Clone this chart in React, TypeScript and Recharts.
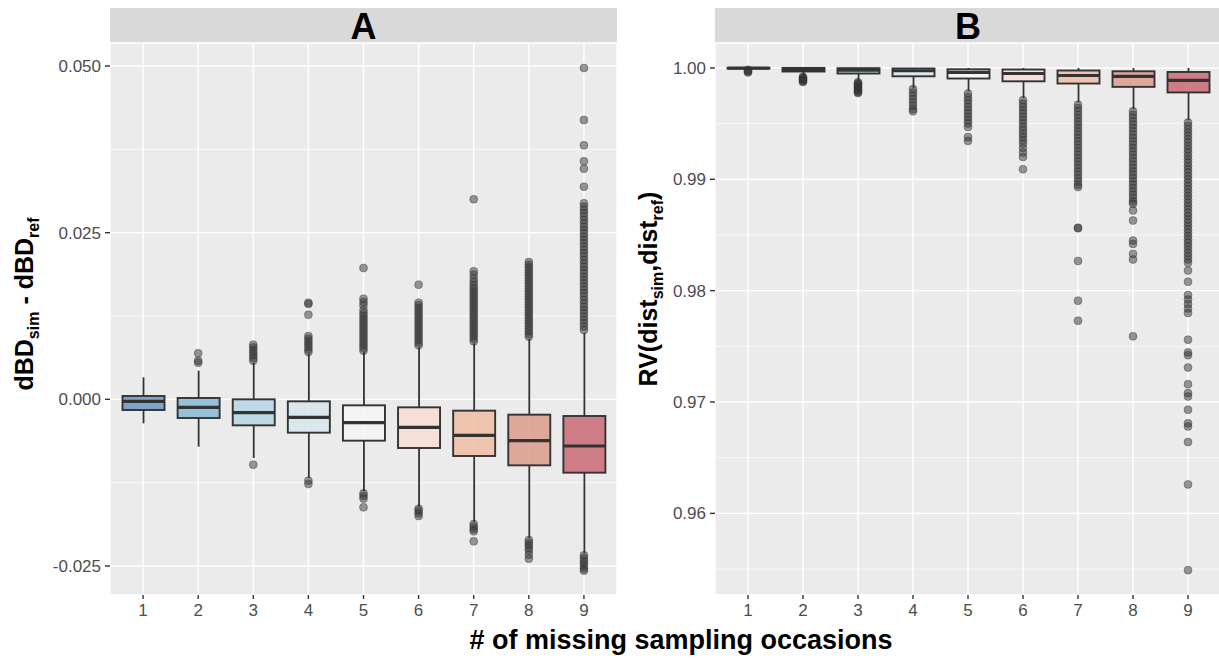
import React from 'react';
import { ComposedChart, Bar, Scatter, XAxis, YAxis, CartesianGrid } from 'recharts';

const occasions = [1, 2, 3, 4, 5, 6, 7, 8, 9];
const boxFills = ['#6A99C6', '#86B8D6', '#B5D6E5', '#D7E8EE', '#F4F4F4', '#F7DDD2', '#EFBDA3', '#DD9A8C', '#C96873'];

// Panel A: dBD_sim - dBD_ref
const aTicks = [-0.025, 0, 0.025, 0.05];
const aMinor = [-0.0125, 0.0125, 0.0375];
const aLow = [-0.0036, -0.0071, -0.0088, -0.0118, -0.0138, -0.0161, -0.0184, -0.0208, -0.0231];
const aQ1 = [-0.0016, -0.0028, -0.0039, -0.005, -0.0062, -0.0073, -0.0085, -0.0099, -0.011];
const aMed = [-0.0003, -0.0012, -0.002, -0.0027, -0.0035, -0.0042, -0.0054, -0.0062, -0.007];
const aQ3 = [0.0005, 0.0002, 0.0, -0.0003, -0.0009, -0.0012, -0.0017, -0.0023, -0.0025];
const aHigh = [0.0033, 0.0043, 0.0055, 0.0069, 0.0071, 0.0078, 0.0084, 0.0091, 0.01];
const aOutliers = [
  [],
  [0.0055, 0.0058, 0.0069],
  [0.0058, 0.0062, 0.0066, 0.007, 0.0074, 0.0078, 0.0082, -0.0098],
  [0.0071, 0.0075, 0.0079, 0.0083, 0.0087, 0.0091, 0.0095, 0.0127, 0.0143, 0.0145, -0.0122, -0.0127],
  [0.0073, 0.0077, 0.0081, 0.0085, 0.0089, 0.0093, 0.0097, 0.0101, 0.0105, 0.0109, 0.0113, 0.0117, 0.0121, 0.0125,
    0.0129, 0.0134, 0.0141, 0.0146, 0.0151, 0.0197, -0.0141, -0.0145, -0.0149, -0.0162],
  [0.0081, 0.0085, 0.0089, 0.0093, 0.0097, 0.0101, 0.0105, 0.0109, 0.0113, 0.0117, 0.0121, 0.0125, 0.0129, 0.0133,
    0.0137, 0.0141, 0.0145, 0.0172, -0.0164, -0.0167, -0.0171, -0.0175],
  [0.0087, 0.0091, 0.0095, 0.0099, 0.0103, 0.0107, 0.0111, 0.0115, 0.0119, 0.0123, 0.0127, 0.0131, 0.0135, 0.0139,
    0.0143, 0.0147, 0.0151, 0.0155, 0.0159, 0.0163, 0.0167, 0.0171, 0.0176, 0.0181, 0.0187, 0.0192, 0.03,
    -0.0187, -0.0191, -0.0195, -0.0198, -0.0213],
  [0.0094, 0.0098, 0.0102, 0.0106, 0.011, 0.0114, 0.0118, 0.0122, 0.0126, 0.013, 0.0134, 0.0138, 0.0142, 0.0146,
    0.015, 0.0154, 0.0158, 0.0162, 0.0166, 0.017, 0.0174, 0.0178, 0.0182, 0.0186, 0.019, 0.0194, 0.0198, 0.0202,
    0.0206, -0.0211, -0.0215, -0.0219, -0.0223, -0.0227, -0.0233, -0.0239],
  [0.0104, 0.0109, 0.0114, 0.0119, 0.0124, 0.0129, 0.0134, 0.0139, 0.0144, 0.0149, 0.0154, 0.0159, 0.0164, 0.0169,
    0.0174, 0.0179, 0.0184, 0.0189, 0.0194, 0.0199, 0.0204, 0.0209, 0.0214, 0.0219, 0.0224, 0.0229, 0.0234, 0.0239,
    0.0244, 0.0249, 0.0254, 0.0259, 0.0264, 0.0269, 0.0274, 0.0279, 0.0284, 0.0289, 0.0294, 0.0319, 0.0346, 0.0357,
    0.0381, 0.0419, 0.0497, -0.0234, -0.0238, -0.0242, -0.0246, -0.025, -0.0254, -0.0257],
];

// Panel B: RV(dist_sim, dist_ref)
const bTicks = [0.96, 0.97, 0.98, 0.99, 1.0];
const bMinor = [0.955, 0.965, 0.975, 0.985, 0.995];
const bLow = [0.99988, 0.99925, 0.9988, 0.9982, 0.9979, 0.9973, 0.9969, 0.9963, 0.9953];
const bQ1 = [0.99995, 0.99968, 0.9995, 0.99925, 0.99905, 0.9988, 0.9986, 0.9983, 0.9978];
const bMed = [0.99998, 0.99988, 0.9998, 0.99975, 0.99961, 0.9995, 0.99932, 0.99925, 0.99889];
const bQ3 = [1.0, 1.0, 0.99998, 0.99995, 0.99988, 0.99986, 0.99977, 0.9997, 0.99964];
const bHigh = [1.0, 1.0, 1.0, 1.0, 1.0, 1.0, 1.0, 1.0, 1.0];
const bOutliers = [
  [0.99983, 0.99975, 0.99968, 0.9996],
  [0.9992, 0.99912, 0.99904, 0.99896, 0.99888, 0.9988, 0.99874],
  [0.99872, 0.99862, 0.99852, 0.99842, 0.99832, 0.99822, 0.99812, 0.99802, 0.99792, 0.99782, 0.99775],
  [0.9981, 0.9978, 0.9975, 0.9972, 0.9969, 0.9966, 0.9963, 0.9961],
  [0.9977, 0.9974, 0.9971, 0.9968, 0.9965, 0.9962, 0.9959, 0.9956, 0.9953, 0.995, 0.9947, 0.9938, 0.99345],
  [0.9971, 0.9968, 0.9965, 0.9962, 0.9959, 0.9956, 0.9953, 0.995, 0.9947, 0.9944, 0.9941, 0.9938, 0.9935, 0.9932,
    0.9928, 0.9924, 0.992, 0.9909],
  [0.9967, 0.9964, 0.9961, 0.9958, 0.9955, 0.9952, 0.9949, 0.9946, 0.9943, 0.994, 0.9937, 0.9934, 0.9931, 0.9928,
    0.9925, 0.9922, 0.9919, 0.9916, 0.9913, 0.991, 0.9907, 0.9904, 0.9901, 0.9898, 0.9895, 0.9893, 0.98565, 0.9856,
    0.98267, 0.9791, 0.9773],
  [0.9961, 0.9958, 0.9955, 0.9952, 0.9949, 0.9946, 0.9943, 0.994, 0.9937, 0.9934, 0.9931, 0.9928, 0.9925, 0.9922,
    0.9919, 0.9916, 0.9913, 0.991, 0.9907, 0.9904, 0.9901, 0.9898, 0.9895, 0.9892, 0.9889, 0.9886, 0.9883, 0.988,
    0.9878, 0.9872, 0.9863, 0.9845, 0.9842, 0.9833, 0.9828, 0.9759],
  [0.9951, 0.9948, 0.9945, 0.9942, 0.9939, 0.9936, 0.9933, 0.993, 0.9927, 0.9924, 0.9921, 0.9918, 0.9915, 0.9912,
    0.9909, 0.9906, 0.9903, 0.99, 0.9897, 0.9894, 0.9891, 0.9888, 0.9885, 0.9882, 0.9879, 0.9876, 0.9873, 0.987,
    0.9867, 0.9864, 0.9861, 0.9858, 0.9855, 0.9852, 0.9849, 0.9846, 0.9843, 0.984, 0.9837, 0.9834, 0.9831, 0.9828,
    0.9825, 0.9818, 0.9808, 0.9796, 0.9792, 0.9788, 0.9784, 0.978, 0.9756, 0.97445, 0.9742, 0.9731, 0.9716, 0.9708,
    0.9705, 0.9693, 0.9681, 0.9678, 0.9664, 0.9626, 0.9549],
];

const FONT = "'Liberation Sans', Arial, Helvetica, sans-serif";
const DARK = '#333333';

function buildBoxes(low: number[], q1: number[], med: number[], q3: number[], high: number[]) {
  return occasions.map((x, i) => ({
    x,
    range: [low[i], high[i]],
    q1: q1[i],
    med: med[i],
    q3: q3[i],
    fill: boxFills[i],
  }));
}

function buildOutliers(outliers: number[][]) {
  return occasions.flatMap((x, i) => outliers[i].map((v) => ({ x, v })));
}

// box + whiskers drawn inside the whisker-range bar, positions derived from the bar's own scale
function BoxShape(props: any) {
  const { x, y, width, height, payload } = props;
  if (!payload || width == null) return null;
  const [lo, hi] = payload.range;
  const py = (v: number) => y + (height * (hi - v)) / (hi - lo);
  const cx = x + width / 2;
  const yq3 = py(payload.q3);
  const yq1 = py(payload.q1);
  const ym = py(payload.med);
  return (
    <g>
      <line x1={cx} x2={cx} y1={py(hi)} y2={yq3} stroke={DARK} strokeWidth={1.8} />
      <line x1={cx} x2={cx} y1={yq1} y2={py(lo)} stroke={DARK} strokeWidth={1.8} />
      <rect x={x} y={yq3} width={width} height={Math.max(yq1 - yq3, 0.5)} fill={payload.fill} fillOpacity={0.85}
        stroke={DARK} strokeWidth={1.9} />
      <line x1={x} x2={x + width} y1={ym} y2={ym} stroke={DARK} strokeWidth={3.2} />
    </g>
  );
}

const OutlierDot = (p: any) => (
  <circle cx={p.cx} cy={p.cy} r={4} fill={DARK} fillOpacity={0.5} stroke={DARK} strokeOpacity={0.45} strokeWidth={0.8} />
);

interface PanelProps {
  boxes: any[];
  points: { x: number; v: number }[];
  domain: [number, number];
  ticks: number[];
  minor: number[];
  digits: number;
  width: number;
  margin: { top: number; right: number; bottom: number; left: number };
}

function Panel({ boxes, points, domain, ticks, minor, digits, width, margin }: PanelProps) {
  return (
    <ComposedChart width={width} height={659} data={boxes} margin={margin}>
      <CartesianGrid fill="#EBEBEB" stroke="#FFFFFF" strokeWidth={0.7} vertical={false} horizontalValues={minor} />
      <CartesianGrid stroke="#FFFFFF" strokeWidth={1.4} />
      <XAxis
        type="number"
        dataKey="x"
        domain={[0.4, 9.6]}
        ticks={occasions}
        interval={0}
        allowDataOverflow
        axisLine={false}
        tickSize={4}
        tickMargin={5}
        tickLine={{ stroke: DARK, strokeWidth: 1.4 }}
        tick={{ fill: '#4D4D4D', fontSize: 17 }}
        height={30}
      />
      <YAxis
        type="number"
        domain={domain}
        ticks={ticks}
        interval={0}
        allowDataOverflow
        axisLine={false}
        tickSize={5}
        tickMargin={4}
        tickLine={{ stroke: DARK, strokeWidth: 1.4 }}
        tick={{ fill: '#4D4D4D', fontSize: 17 }}
        tickFormatter={(v: number) => v.toFixed(digits)}
        width={60}
      />
      <Scatter data={points} dataKey="v" shape={OutlierDot} isAnimationActive={false} />
      <Bar dataKey="range" barSize={42} shape={BoxShape} isAnimationActive={false} />
    </ComposedChart>
  );
}

export default function App() {
  const boxesA = buildBoxes(aLow, aQ1, aMed, aQ3, aHigh);
  const boxesB = buildBoxes(bLow, bQ1, bMed, bQ3, bHigh);
  return (
    <div style={{ position: 'absolute', left: 0, top: 0, width: 1219, height: 659, overflow: 'hidden', background: '#fff', fontFamily: FONT }}>
      <svg width={1219} height={659} style={{ position: 'absolute', left: 0, top: 0 }}>
        <rect x={110} y={8} width={507} height={35} fill="#D9D9D9" />
        <rect x={715} y={8} width={506} height={35} fill="#D9D9D9" />
        <text x={363.5} y={39} textAnchor="middle" fontSize={36} fontWeight="bold" fill="#000">A</text>
        <text x={968} y={39} textAnchor="middle" fontSize={36} fontWeight="bold" fill="#000">B</text>
        <text x={681} y={649} textAnchor="middle" fontSize={27} fontWeight="bold" fill="#000"># of missing sampling occasions</text>
        <text transform="translate(33,304) rotate(-90)" textAnchor="middle" fontSize={25} fontWeight="bold" fill="#000">
          dBD<tspan fontSize={16} dy={6}>sim</tspan>
          <tspan dy={-6}> - dBD</tspan>
          <tspan fontSize={16} dy={6}>ref</tspan>
        </text>
        <text transform="translate(657,289) rotate(-90)" textAnchor="middle" fontSize={25} fontWeight="bold" fill="#000">
          RV(dist<tspan fontSize={16} dy={6}>sim</tspan>
          <tspan dy={-6}>,dist</tspan>
          <tspan fontSize={16} dy={6}>ref</tspan>
          <tspan dy={-6}>)</tspan>
        </text>
      </svg>
      <div style={{ position: 'absolute', left: 0, top: 0 }}>
        <Panel
          boxes={boxesA}
          points={buildOutliers(aOutliers)}
          domain={[-0.02935, 0.05345]}
          ticks={aTicks}
          minor={aMinor}
          digits={3}
          width={640}
          margin={{ top: 43, right: 23, bottom: 34, left: 50 }}
        />
      </div>
      <div style={{ position: 'absolute', left: 640, top: 0 }}>
        <Panel
          boxes={boxesB}
          points={buildOutliers(bOutliers)}
          domain={[0.95267, 1.00224]}
          ticks={bTicks}
          minor={bMinor}
          digits={2}
          width={600}
          margin={{ top: 43, right: 19, bottom: 34, left: 15 }}
        />
      </div>
    </div>
  );
}
